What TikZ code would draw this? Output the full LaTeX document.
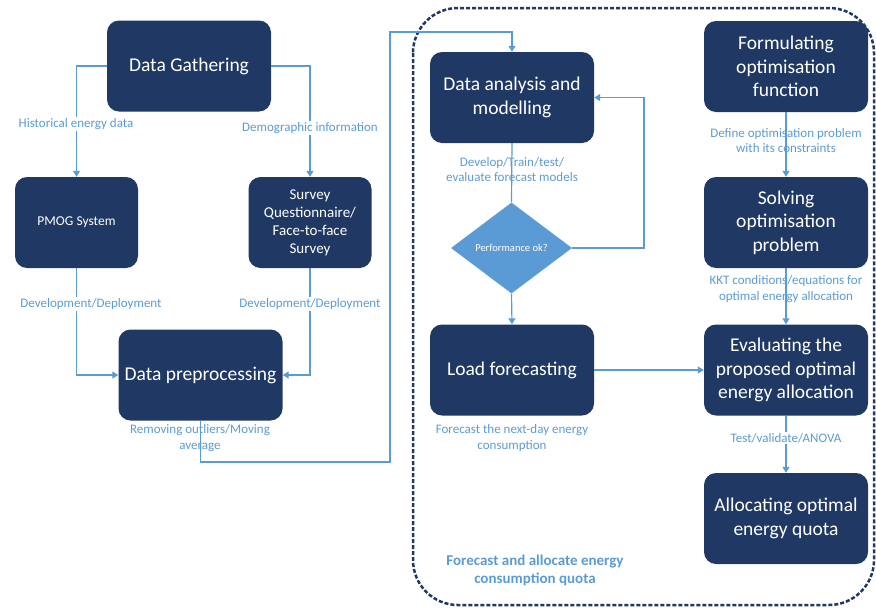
\documentclass[tikz,border=0pt]{standalone}
\usepackage{fontspec}
\setmainfont{Carlito}
\usetikzlibrary{arrows.meta,shapes.geometric}
\definecolor{navy}{RGB}{32,56,100}
\definecolor{flow}{RGB}{91,155,213}
\definecolor{framecol}{RGB}{31,56,100}

\begin{document}
\begin{tikzpicture}[x=1pt,y=-1pt,
  bigbox/.style={fill=navy, rounded corners=12pt, minimum width=164pt, minimum height=91pt,
    text=white, align=center, font=\fontsize{19.5}{23.5}\selectfont, inner sep=0pt},
  smallbox/.style={bigbox, minimum width=123pt, font=\fontsize{15}{18}\selectfont},
  decision/.style={diamond, fill=flow, minimum width=121pt, minimum height=91pt, inner sep=0pt},
  conn/.style={draw=flow, line width=1.2pt, -{Triangle[length=6pt,width=7pt]}},
  lbl/.style={text=flow, align=center, font=\fontsize{13}{15.5}\selectfont, inner sep=1pt},
  gaplbl/.style={lbl, fill=white},
]
\useasboundingbox (0,0) rectangle (876,608);

% dashed frame around forecasting and allocation stage
\draw[framecol, line width=2.5pt, dash pattern=on 4pt off 2pt, rounded corners=45pt]
  (413,8) rectangle (874,605);

% data stage
\node[bigbox] (dg) at (189,66) {Data Gathering};
\node[smallbox, font=\fontsize{13.5}{16}\selectfont] (pmog) at (76.5,222.5) {PMOG System};
\node[smallbox] (survey) at (310,222.5) {Survey\\Questionnaire/\\Face-to-face\\Survey};
\node[bigbox] (dp) at (200.5,375) {Data preprocessing};

% forecasting branch
\node[bigbox] (da) at (512,97.5) {Data analysis and\\modelling};
\node[decision] (dec) at (511.5,248) {};
\node[text=white, font=\fontsize{10.5}{12}\selectfont] (dectxt) at (dec) {Performance ok?};
\node[bigbox] (lf) at (512,370) {Load forecasting};

% optimisation branch
\node[bigbox] (fo) at (786,66.5) {Formulating\\optimisation\\function};
\node[bigbox] (so) at (786,222.5) {Solving\\optimisation\\problem};
\node[bigbox] (ev) at (786,370) {Evaluating the\\proposed optimal\\energy allocation};
\node[bigbox] (al) at (786,518.5) {Allocating optimal\\energy quota};

% bends of the long connector
\coordinate (b1) at (390,462);
\coordinate (b2) at (390,32);
\coordinate (fb) at (644,248);

% connectors
\draw[conn] (dg.west) -| (pmog.north);
\draw[conn] (dg.east) -| (survey.north);
\draw[conn] (pmog.south) |- (dp.west);
\draw[conn] (survey.south) |- (dp.east);
\draw[conn] (dp.south) |- (b1) -- (b2) -| (da.north);
\draw[draw=flow, line width=1.2pt] (da.south) -- (dec.north);
\draw[conn] (dec.east) -- (fb) |- (da.east);
\draw[conn] (dec.south) -- (lf.north);
\draw[conn] (lf.east) -- (ev.west);
\draw[conn] (fo.south) -- (so.north);
\draw[conn] (so.south) -- (ev.north);
\draw[conn] (ev.south) -- (al.north);

% connector labels
\node[gaplbl] (l1) at (76,124) {Historical energy data};
\node[gaplbl] (l2) at (310,128) {Demographic information};
\node[gaplbl] (l3) at (91,304) {Development/Deployment};
\node[gaplbl] (l4) at (310,304) {Development/Deployment};
\node[lbl] (l5) at (200,438) {Removing outliers/Moving\\average};
\node[lbl] (l6) at (512,169.5) {Develop/Train/test/\\evaluate forecast models};
\node[lbl] (l7) at (512,438) {Forecast the next-day energy\\consumption};
\node[lbl] (l8) at (786,140.5) {Define optimisation problem\\with its constraints};
\node[lbl] (l9) at (786,289) {KKT conditions/equations for\\optimal energy allocation};
\node[gaplbl] (l10) at (786,438) {Test/validate/ANOVA};

% stage title
\node[text=flow, align=center, font=\bfseries\fontsize{15}{18}\selectfont] (title) at (535,570)
  {Forecast and allocate energy\\consumption quota};
\end{tikzpicture}
\end{document}
